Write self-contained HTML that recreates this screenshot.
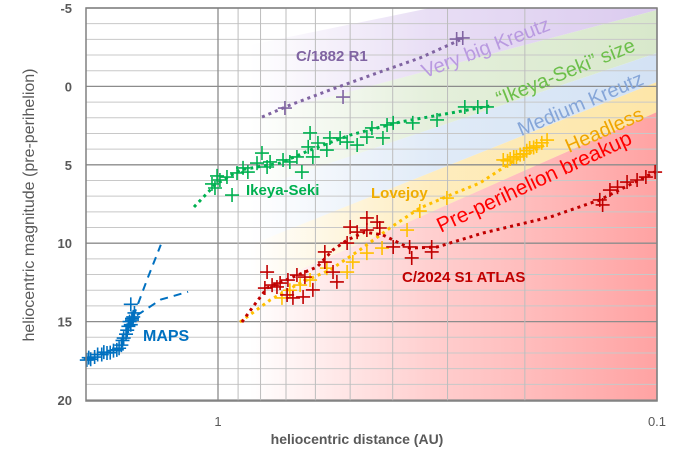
<!DOCTYPE html>
<html><head><meta charset="utf-8">
<style>
html,body{margin:0;padding:0;background:#fff;}
svg{display:block;font-family:"Liberation Sans",sans-serif;}
</style></head>
<body>
<svg id="chart" width="677" height="454" viewBox="0 0 677 454" xmlns="http://www.w3.org/2000/svg">
<defs>
  <linearGradient id="gP" gradientUnits="userSpaceOnUse" x1="250" y1="0" x2="657" y2="0"><stop offset="0" stop-color="#d9c8ee" stop-opacity="0"/><stop offset="0.45" stop-color="#d9c8ee" stop-opacity="0.6"/><stop offset="1" stop-color="#d9c8ee" stop-opacity="0.95"/></linearGradient>
  <linearGradient id="gG" gradientUnits="userSpaceOnUse" x1="250" y1="0" x2="657" y2="0"><stop offset="0" stop-color="#d6e7c8" stop-opacity="0"/><stop offset="0.45" stop-color="#d6e7c8" stop-opacity="0.65"/><stop offset="1" stop-color="#d6e7c8" stop-opacity="0.95"/></linearGradient>
  <linearGradient id="gB" gradientUnits="userSpaceOnUse" x1="250" y1="0" x2="657" y2="0"><stop offset="0" stop-color="#d3e2f4" stop-opacity="0"/><stop offset="0.45" stop-color="#d3e2f4" stop-opacity="0.7"/><stop offset="1" stop-color="#d3e2f4" stop-opacity="1"/></linearGradient>
  <linearGradient id="gY" gradientUnits="userSpaceOnUse" x1="250" y1="0" x2="657" y2="0"><stop offset="0" stop-color="#fde6a8" stop-opacity="0"/><stop offset="0.45" stop-color="#fde6a8" stop-opacity="0.75"/><stop offset="1" stop-color="#fde6a8" stop-opacity="1"/></linearGradient>
  <linearGradient id="gR" gradientUnits="userSpaceOnUse" x1="250" y1="0" x2="657" y2="0"><stop offset="0" stop-color="#ff9e9e" stop-opacity="0"/><stop offset="0.45" stop-color="#ff9e9e" stop-opacity="0.5"/><stop offset="1" stop-color="#ff9e9e" stop-opacity="0.95"/></linearGradient>
  <clipPath id="plotClip"><rect x="86" y="8" width="571" height="393"/></clipPath>
</defs>
<g clip-path="url(#plotClip)">
  <polygon fill="url(#gP)" points="250,45 430,8 657,8 657,10 250,118"/>
  <polygon fill="url(#gG)" points="250,118 657,10 657,53 250,190"/>
  <polygon fill="url(#gB)" points="250,190 657,53 657,82 250,245"/>
  <polygon fill="url(#gY)" points="250,245 657,82 657,112 250,292"/>
  <polygon fill="url(#gR)" points="250,292 657,112 657,401 250,401"/>
</g>
<g id="grid"></g>
<g id="bandLabels" font-size="20">
  <text x="488" y="54" fill="#b99ae0" text-anchor="middle" transform="rotate(-21 488 54)">Very big Kreutz</text>
  <text x="568" y="78" fill="#6cbf4a" text-anchor="middle" transform="rotate(-22 568 78)">“Ikeya-Seki” size</text>
  <text x="583" y="110" fill="#86a6d8" text-anchor="middle" transform="rotate(-23 583 110)">Medium Kreutz</text>
  <text x="607" y="136" fill="#f0a500" text-anchor="middle" transform="rotate(-24 607 136)">Headless</text>
  <text x="537" y="188" fill="#ff0000" font-size="21" text-anchor="middle" transform="rotate(-25 537 188)">Pre-perihelion breakup</text>
</g>
<g id="series"></g>
<g font-weight="bold" font-size="15">
  <text x="296" y="61" fill="#8064a2">C/1882 R1</text>
  <text x="246" y="195" fill="#00b050">Ikeya-Seki</text>
  <text x="371" y="198" fill="#f0ad00">Lovejoy</text>
  <text x="402" y="282" fill="#c00000">C/2024 S1 ATLAS</text>
  <text x="143" y="341" fill="#0070c0" font-size="16">MAPS</text>
</g>
<rect x="86" y="8" width="571" height="393" fill="none" stroke="#808080" stroke-width="1.5"/>
<g id="axes" fill="#595959"></g>
<text x="357" y="444" text-anchor="middle" font-size="14" font-weight="bold" fill="#595959">heliocentric distance (AU)</text>
<text x="0" y="0" text-anchor="middle" font-size="16" fill="#595959" transform="translate(34 205) rotate(-90)">heliocentric magnitude (pre-perihelion)</text>
</svg>
<script>
// ---- data ----
const yTickValues=[-5,0,5,10,15,20];
const xTickValues=[1,0.1];
const xTickLabels=["1","0.1"];
const xMinorGrid=[0.9,0.8,0.7,0.6,0.5,0.4,0.3,0.2];

const mapsR=[1.99,1.97,1.95,1.91,1.88,1.84,1.82,1.79,1.76,1.73,1.70,1.68,1.66,1.65,1.64,1.62,1.61,1.60,1.59,1.58,1.57,1.56,1.55,1.57,1.58];
const mapsM=[17.45,17.3,17.4,17.26,17.1,17.1,16.95,17.0,16.98,16.85,16.8,16.7,16.5,16.2,16.05,15.8,15.55,15.3,15.0,15.2,14.8,14.7,14.45,14.9,13.9];
const mapsTrendUpR=[1.56,1.45,1.35];
const mapsTrendUpM=[14.7,12.3,10.1];
const mapsTrendLowR=[1.53,1.35,1.17];
const mapsTrendLowM=[14.6,13.6,13.1];

const ikeyaR=[1.032,1.016,1.005,0.990,0.954,0.929,0.905,0.877,0.855,0.815,0.794,0.773,0.761,0.711,0.686,0.661,0.644,0.623,0.617,0.608,0.592,0.565,0.556,0.527,0.508,0.482,0.458,0.446,0.421,0.412,0.399,0.36,0.317,0.274,0.256,0.244];
const ikeyaM=[6.22,6.48,5.71,5.97,5.78,6.93,5.52,5.20,5.46,4.89,4.25,5.14,4.82,4.69,4.82,4.50,5.46,3.86,2.97,4.50,3.61,4.06,3.29,3.29,3.55,3.74,3.23,2.65,3.29,2.46,2.33,2.33,2.14,1.31,1.31,1.31];
const ikeyaTrendR=[1.134,1.016,0.891,0.722,0.617,0.5,0.385,0.312,0.24];
const ikeyaTrendM=[7.69,6.29,5.33,4.89,4.06,3.10,2.27,1.82,1.25];

const c1882R=[0.704,0.519,0.286,0.277];
const c1882M=[1.38,0.68,-3.02,-3.09];
const c1882TrendR=[0.794,0.686,0.556,0.428,0.347,0.281];
const c1882TrendM=[1.95,1.19,0.23,-0.92,-1.81,-2.96];

const lovejoyR=[0.715,0.686,0.650,0.617,0.565,0.508,0.493,0.458,0.423,0.371,0.347,0.301,0.224,0.219,0.216,0.212,0.209,0.205,0.201,0.198,0.195,0.191,0.188,0.183,0.178];
const lovejoyM=[13.49,13.0,12.67,12.35,11.59,11.84,11.2,10.63,10.31,9.16,7.95,7.12,4.69,4.75,4.63,4.5,4.50,4.35,4.3,4.1,3.93,3.9,3.8,3.6,3.42];
const lovejoyTrendR=[0.891,0.761,0.650,0.556,0.475,0.406,0.347,0.296,0.253,0.216,0.18];
const lovejoyTrendM=[15.03,13.62,12.54,11.71,10.43,9.03,7.76,6.93,6.16,4.89,3.74];

const atlasR=[0.782,0.773,0.753,0.734,0.722,0.696,0.693,0.675,0.661,0.640,0.634,0.608,0.571,0.571,0.547,0.536,0.508,0.5,0.482,0.458,0.458,0.434,0.428,0.399,0.366,0.362,0.326,0.326,0.135,0.133,0.128,0.123,0.117,0.111,0.106,0.101];
const atlasM=[12.86,11.84,12.67,12.79,12.54,13.30,12.35,13.49,12.03,13.43,12.16,12.98,10.56,11.2,11.84,12.47,9.99,8.97,9.29,8.39,9.16,8.65,9.03,10.24,10.24,10.94,10.24,10.56,7.24,7.56,6.61,6.42,6.10,5.97,5.78,5.46];
const atlasTrendR=[0.882,0.833,0.773,0.675,0.595,0.547,0.508,0.463,0.421,0.366,0.317,0.249,0.175,0.135,0.101];
const atlasTrendM=[15.03,14.07,12.86,12.16,11.52,10.43,9.80,9.29,9.48,10.31,10.24,9.35,8.33,7.24,5.45];

// ---- axes ----
const X0=218, DEC=439, Y0=8, PXM=15.68;
function xScale(r){return X0-DEC*Math.log10(r);}
function yScale(m){return Y0+(m+5)*PXM;}
const NS='http://www.w3.org/2000/svg';
function mk(tag,attrs,parent){const e=document.createElementNS(NS,tag);for(const k in attrs)e.setAttribute(k,attrs[k]);parent.appendChild(e);return e;}

const grid=document.getElementById('grid');
for(let m=-5;m<=20;m++){
  const y=yScale(m);
  const ln=mk('line',{x1:86,x2:657,y1:y,y2:y,stroke:(m%5===0)?'#8c8c8c':'#c8c8c8','stroke-width':(m%5===0)?1.3:1},grid);
  
  
}
xMinorGrid.forEach(r=>{
  const x=xScale(r);
  const ln=mk('line',{x1:x,x2:x,y1:8,y2:401,stroke:'#bdbdbd','stroke-width':1},grid);
  
  
});
xTickValues.forEach(r=>{
  const x=xScale(r);
  const ln=mk('line',{x1:x,x2:x,y1:8,y2:401,stroke:'#8c8c8c','stroke-width':1.3},grid);
  
  
});

const axes=document.getElementById('axes');
yTickValues.forEach(v=>{
  const t=mk('text',{x:72,y:yScale(v)+5,'text-anchor':'end','font-size':13,'font-weight':'bold'},axes);
  t.textContent=String(v);
  
  
});
xTickValues.forEach((v,i)=>{
  const t=mk('text',{x:xScale(v),y:426,'text-anchor':'middle','font-size':13},axes);
  t.textContent=xTickLabels[i];
  
  
});

// ---- series ----
const series=document.getElementById('series');
function trend(rs,ms,color,dash,name,w){
  const d=rs.map((r,i)=>(i?'L':'M')+xScale(r).toFixed(1)+' '+yScale(ms[i]).toFixed(1)).join(' ');
  const p=mk('path',{d:d,fill:'none',stroke:color,'stroke-width':w||3,'stroke-dasharray':dash},series);
  
  
}
function points(rs,ms,color,name,s){
  const g=mk('g',{stroke:color,'stroke-width':1.6},series);
  
  
  rs.forEach((r,i)=>{
    const x=xScale(r),y=yScale(ms[i]);
    const p=mk('path',{d:`M${x-s} ${y}H${x+s}M${x} ${y-s}V${y+s}`},g);
    
    
  });
}
trend(mapsTrendUpR,mapsTrendUpM,'#0070c0','8 6','maps-trend-upper',2);
trend(mapsTrendLowR,mapsTrendLowM,'#0070c0','8 6','maps-trend-lower',2);
trend(ikeyaTrendR,ikeyaTrendM,'#00b050','3 4','ikeya-seki-trend');
trend(c1882TrendR,c1882TrendM,'#8064a2','3 4','c1882r1-trend');
trend(lovejoyTrendR,lovejoyTrendM,'#ffc000','3 4','lovejoy-trend');
trend(atlasTrendR,atlasTrendM,'#c00000','3 4','atlas-trend');
points(mapsR,mapsM,'#0070c0','maps-points',7);
points(ikeyaR,ikeyaM,'#00b050','ikeya-seki-points',7);
points(c1882R,c1882M,'#8064a2','c1882r1-points',7);
points(lovejoyR,lovejoyM,'#ffc000','lovejoy-points',7);
points(atlasR,atlasM,'#c00000','atlas-points',7);
</script>
</body></html>
